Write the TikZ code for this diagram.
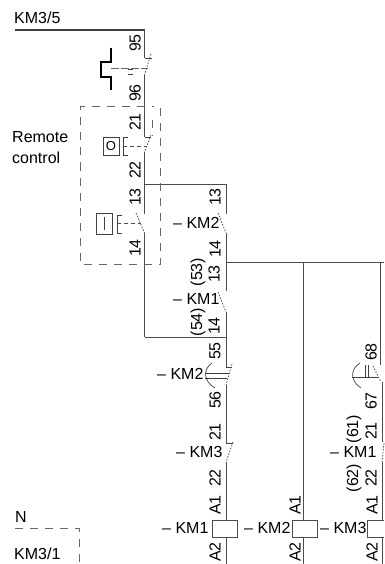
\documentclass[tikz,border=0pt]{standalone}
\usepackage{fontspec}
\setmainfont{Liberation Sans}
\tikzset{
 wire/.style={draw=black!70,line width=1pt},
 top/.style={draw=black!75,line width=1.3pt},
 dot/.style={draw=black!70,line width=.8pt,dash pattern=on 1.5pt off 1.5pt},
 dsh/.style={draw=black!60,line width=1pt,dash pattern=on 8pt off 7pt},
 thin/.style={draw=black!75,line width=.7pt},
 lab/.style={font=\fontsize{16}{16}\selectfont,text=black,inner sep=0pt},
 num/.style={lab,rotate=90},
 coil/.style={draw=black!70,line width=.8pt,fill=white,minimum width=25pt,minimum height=17pt,inner sep=0pt}
}
\begin{document}
\begin{tikzpicture}[x=1pt,y=-1pt]
\useasboundingbox (0,0) rectangle (384,564);
% wires
\coordinate (a0) at (15,30); \coordinate (a1) at (144.5,30);
\coordinate (a2) at (144.5,58); \coordinate (a3) at (144.5,75);
\draw[top] (a0) -- (a1);
\draw[wire] (a1) -- (a2);
\draw[dot] (151,54) -- (a3);
\draw[thin] (a2) -- (152,58);
\draw[wire] (a3) -- (144.5,137);
\draw[thin] (144.5,137) -- (151,137);
\draw[dot] (151,135) -- (144.5,152);
\draw[wire] (144.5,152) -- (144.5,214);
\draw[wire] (144.5,184) -- (226,184) -- (226,214);
\draw[dot] (136,213) -- (144.5,233);
\draw[wire] (144.5,233) -- (144.5,337);
\draw[dot] (218,213) -- (226,233);
\draw[wire] (226,233) -- (226,291);
\draw[wire] (226,262) -- (384,262);
\draw[dot] (218,292) -- (226,312);
\draw[wire] (226,312) -- (226,367);
\draw[wire] (144.5,337) -- (226,337);
\draw[thin] (226,367) -- (232,367);
\draw[dot] (232,364) -- (226,385);
\draw[wire] (226,385) -- (226,443);
\draw[thin] (226,443) -- (233,443);
\draw[dot] (233,442) -- (226,462);
\draw[wire] (226,462) -- (226,564);
\draw[wire] (303,262) -- (303,564);
\draw[wire] (380,262) -- (380,365);
\draw[dot] (373,366) -- (381,382);
\draw[wire] (382,382) -- (382,442);
\draw[dot] (384,443) -- (382,462);
\draw[wire] (382,462) -- (382,564);
% dashed box
\draw[dsh] (160.5,108) -- (160.5,264) -- (80,264) -- (80,107) -- (154,107);
\draw[dsh] (152,120) -- (152,136);
% stop button
\draw[draw=black,line width=1.3pt] (111,48) -- (111,62) -- (101,62) -- (101,77) -- (111,77) -- (111,90);
\draw[draw=black!60,line width=1pt,dash pattern=on 8pt off 2pt] (111,69) -- (148,69);
\draw[thin] (128,69.5) -- (133,69.5) (128,74) -- (133,74);
% O button
\node[draw=black!75,line width=.7pt,minimum width=16pt,minimum height=18pt,inner sep=0pt,font=\fontsize{13}{13}\selectfont] (bo) at (111,146) {O};
\draw[thin] (128,137) -- (123,137) -- (123,155) -- (128,155);
\draw[dot,dash pattern=on 4pt off 3pt] (123,146) -- (146,146);
% I button
\node[draw=black!75,line width=.7pt,minimum width=16pt,minimum height=21pt,inner sep=0pt] (bi) at (104,223.5) {};
\draw[thin] (104,217) -- (104,230);
\draw[thin] (122,215) -- (117,215) -- (117,233) -- (122,233);
\draw[dot,dash pattern=on 4pt off 3pt] (117,223) -- (141,223);
% thermal KM2
\draw[thin] (212,363) .. controls (203,369) and (203,381) .. (215,388);
\draw[thin] (205,373) -- (229,373) (205,378) -- (227,378);
% thermal right
\draw[thin] (360,363) .. controls (350,369) and (350,381) .. (361,388);
\draw[thin] (352,377) -- (378,377);
\draw[thin] (365,365) -- (365,377) (368,365) -- (368,377);
% coils
\node[coil] (k1) at (225,528.5) {};
\node[coil] (k2) at (304.5,528.5) {};
\path[draw=black!70,line width=.8pt,fill=white] (384,520) -- (367.5,520) -- (367.5,537) -- (384,537);
% numbers
\node[num] at (135,43) {95};
\node[num] at (135,93) {96};
\node[num] at (135,122) {21};
\node[num] at (135,170) {22};
\node[num] at (135,197) {13};
\node[num] at (135,248) {14};
\node[num] at (215,197) {13};
\node[num] at (215,249) {14};
\node[num] at (214,274) {13};
\node[num] at (198,272) {(53)};
\node[num] at (214,326) {14};
\node[num] at (198,322) {(54)};
\node[num] at (215,351) {55};
\node[num] at (215,400) {56};
\node[num] at (215,432) {21};
\node[num] at (215,478) {22};
\node[num] at (215,505) {A1};
\node[num] at (215,552) {A2};
\node[num] at (295,505) {A1};
\node[num] at (295,552) {A2};
\node[num] at (371,352) {68};
\node[num] at (371,401) {67};
\node[num] at (371,431) {21};
\node[num] at (354,429) {(61)};
\node[num] at (371,478) {22};
\node[num] at (354,478) {(62)};
\node[num] at (372,505) {A1};
\node[num] at (372,552) {A2};
% labels
\node[lab,anchor=west] at (14,18) {KM3/5};
\node[lab,anchor=west] at (12,137) {Remote};
\node[lab,anchor=west] at (12,158) {control};
\node[lab,anchor=west] at (173,223) {– KM2};
\node[lab,anchor=west] at (173,299) {– KM1};
\node[lab,anchor=west] at (157,374) {– KM2};
\node[lab,anchor=west] at (176,452) {– KM3};
\node[lab,anchor=west] at (162,528) {– KM1};
\node[lab,anchor=west] at (244,528) {– KM2};
\node[lab,anchor=west] at (320,528) {– KM3};
\node[lab,anchor=west] at (330,452) {– KM1};
\node[lab,anchor=west] at (15,517) {N};
\node[lab,anchor=west] at (14,554) {KM3/1};
% N dashed
\draw[dsh] (15,528) -- (79,528) -- (79,564);
\end{tikzpicture}
\end{document}
